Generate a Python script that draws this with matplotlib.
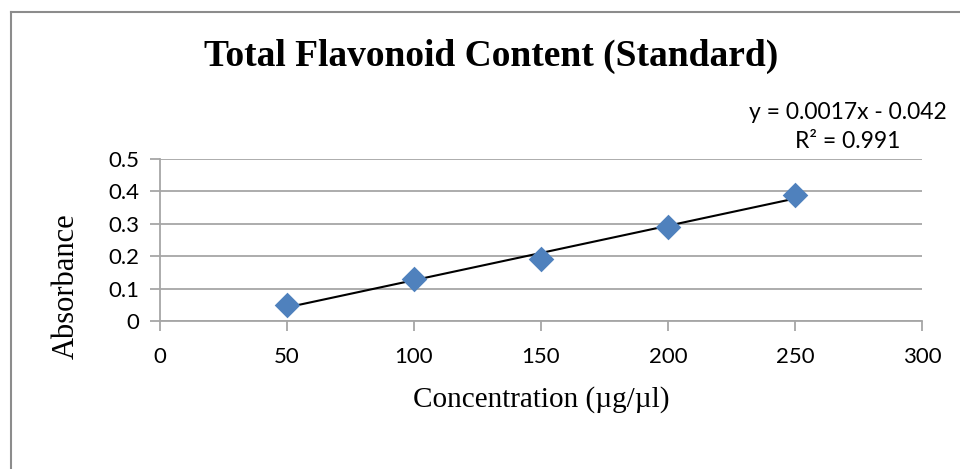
import numpy as np
from matplotlib import pyplot as plt
from matplotlib.lines import Line2D

concentration = [50, 100, 150, 200, 250]
absorbance = [0.05, 0.13, 0.19, 0.29, 0.39]
x_ticks = [0, 50, 100, 150, 200, 250, 300]
y_ticks = [0, 0.1, 0.2, 0.3, 0.4, 0.5]

title = 'Total Flavonoid Content (Standard)'
x_label = 'Concentration (\u00b5g/\u00b5l)'
y_label = 'Absorbance'

tick_font = 'Lato'
serif_font = 'Liberation Serif'
grid_gray = '#a6a6a6'

# linear trend line, like excel
slope, intercept = np.polyfit(concentration, absorbance, 1)
fit = np.polyval([slope, intercept], concentration)
r2 = 1 - np.sum((np.array(absorbance) - fit) ** 2) / np.sum((np.array(absorbance) - np.mean(absorbance)) ** 2)

fig = plt.figure(figsize=(9.6, 4.69), dpi=100)
ax = fig.add_axes([160 / 960, 1 - 321 / 469, (922 - 160) / 960, (321 - 159) / 469])

ax.plot(concentration, fit, color='black', linewidth=1.5, zorder=3)
ax.scatter(concentration, absorbance, marker='D', s=170, color='#4f81bd', zorder=4, linewidths=0)

ax.set_xlim(0, 300)
ax.set_ylim(0, 0.5)
ax.set_xticks(x_ticks)
ax.set_yticks(y_ticks)
ax.set_xticklabels([str(t) for t in x_ticks], fontfamily=tick_font, fontsize=16)
ax.set_yticklabels(['0' if t == 0 else f'{t:.1f}' for t in y_ticks], fontfamily=tick_font, fontsize=16)
ax.tick_params(axis='both', direction='out', length=7, width=1.3, color=grid_gray)
ax.tick_params(axis='x', pad=12)
ax.tick_params(axis='y', pad=8)
ax.yaxis.grid(True, color=grid_gray, linewidth=1.3)
ax.set_axisbelow(True)
for side in ['top', 'right']:
    ax.spines[side].set_visible(False)
for side in ['left', 'bottom']:
    ax.spines[side].set_color(grid_gray)
    ax.spines[side].set_linewidth(1.3)

fig.text(491 / 960, 1 - 56 / 469, title, ha='center', va='center',
         fontfamily=serif_font, fontweight='bold', fontsize=27)
fig.text(541 / 960, 1 - 400 / 469, x_label, ha='center', va='center',
         fontfamily=serif_font, fontsize=21)
fig.text(66 / 960, 1 - 286 / 469, y_label, ha='center', va='center', rotation=90,
         fontfamily=serif_font, fontsize=22)
fig.text(848 / 960, 1 - 127 / 469, f'y = {slope:.4f}x - {abs(intercept):.3f}\nR\u00b2 = {r2:.3f}',
         ha='center', va='center', multialignment='center', linespacing=1.45,
         fontfamily=tick_font, fontsize=16.5)

# chart frame, cut off at right and bottom
fig.add_artist(Line2D([11 / 960, 11 / 960], [0, 1 - 12 / 469], transform=fig.transFigure,
                      color='#8c8c8c', linewidth=1.5))
fig.add_artist(Line2D([11 / 960, 1], [1 - 12 / 469, 1 - 12 / 469], transform=fig.transFigure,
                      color='#8c8c8c', linewidth=1.5))

fig.savefig('out.png', dpi=100)
